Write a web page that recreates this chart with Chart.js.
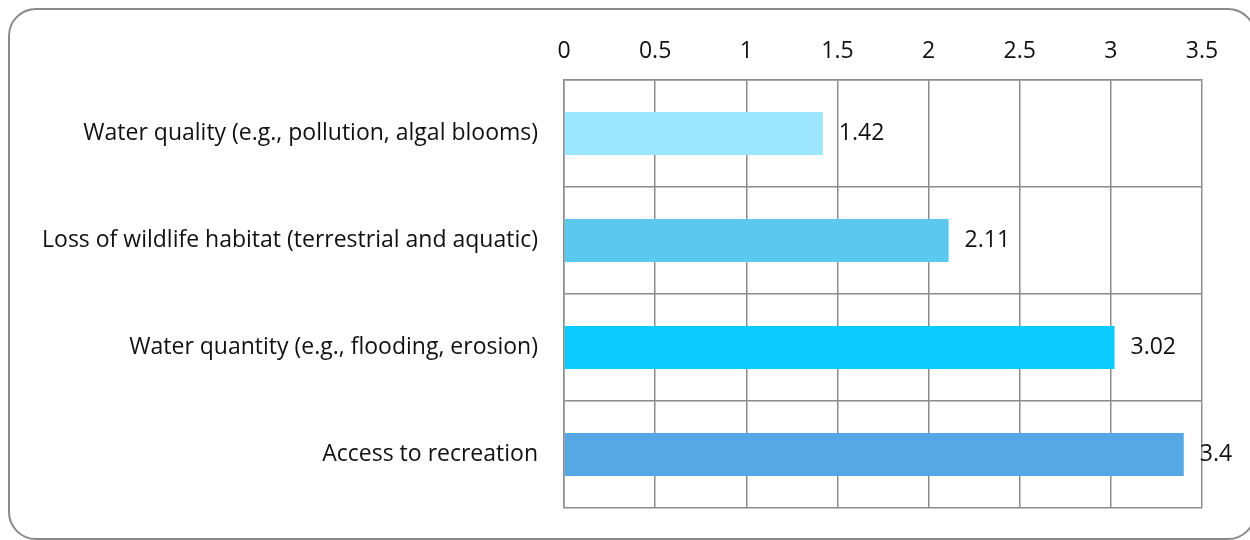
<!DOCTYPE html>
<html>
<head>
<meta charset="utf-8">
<script src="https://cdn.jsdelivr.net/npm/chart.js@4/dist/chart.umd.min.js"></script>
<style>
  html, body { margin: 0; padding: 0; background: #fff; overflow: hidden; }
  #wrap { position: relative; width: 1250px; height: 540px; overflow: hidden; }
  #frame { position: absolute; left: 8px; top: 8px; width: 1248px; height: 532px; box-sizing: border-box;
           border: 2px solid #8a8a8a; border-radius: 28px; }
  canvas { position: absolute; left: 0; top: 0; }
</style>
</head>
<body>
<div id="wrap">
  <div id="frame"></div>
  <canvas id="chart" width="1250" height="540"></canvas>
</div>
<script>
const categories = [
    'Water quality (e.g., pollution, algal blooms)',
    'Loss of wildlife habitat (terrestrial and aquatic)',
    'Water quantity (e.g., flooding, erosion)',
    'Access to recreation'
];
const values = [1.42, 2.11, 3.02, 3.4];
const barColors = ['#9be5fe', '#5bc8f0', '#0bcbff', '#55a8e4'];

const gridColor = '#8c8c8c';
const fontFamily = "'Open Sans', sans-serif";
const fontSize = 23;

// labels at the end of each bar
const valueLabels = {
    id: 'valueLabels',
    afterDatasetsDraw(chart) {
        const ctx = chart.ctx;
        const meta = chart.getDatasetMeta(0);
        ctx.save();
        ctx.font = fontSize + "px " + fontFamily;
        ctx.fillStyle = '#111';
        ctx.textBaseline = 'middle';
        ctx.textAlign = 'left';
        meta.data.forEach((bar, i) => {
            ctx.fillText(String(values[i]), bar.x + 16, bar.y);
        });
        ctx.restore();
    }
};

new Chart(document.getElementById('chart').getContext('2d'), {
    type: 'bar',
    data: {
        labels: categories,
        datasets: [{
            data: values,
            backgroundColor: barColors,
            barPercentage: 0.8,
            categoryPercentage: 0.5
        }]
    },
    plugins: [valueLabels],
    options: {
        indexAxis: 'y',
        responsive: false,
        animation: false,
        layout: { padding: { top: 20, right: 48, bottom: 32, left: 0 } },
        plugins: {
            legend: { display: false },
            tooltip: { enabled: false }
        },
        scales: {
            x: {
                position: 'top',
                min: 0,
                max: 3.5,
                afterFit: (scale) => { scale.height = 60; },
                ticks: {
                    stepSize: 0.5,
                    color: '#111',
                    font: { family: fontFamily, size: fontSize },
                    padding: 15,
                    callback: (val) => String(Number(val))
                },
                grid: { color: gridColor, lineWidth: 1.5, drawTicks: false },
                border: { color: gridColor, width: 1.5 }
            },
            y: {
                afterFit: (scale) => {
                    scale.width = 564;
                    scale.paddingTop = 0;
                    scale.paddingBottom = 0;
                },
                ticks: { color: '#111', font: { family: fontFamily, size: fontSize }, padding: 26 },
                grid: { color: gridColor, lineWidth: 1.5, drawTicks: false },
                border: { color: gridColor, width: 1.5 }
            }
        }
    }
});
</script>
</body>
</html>
